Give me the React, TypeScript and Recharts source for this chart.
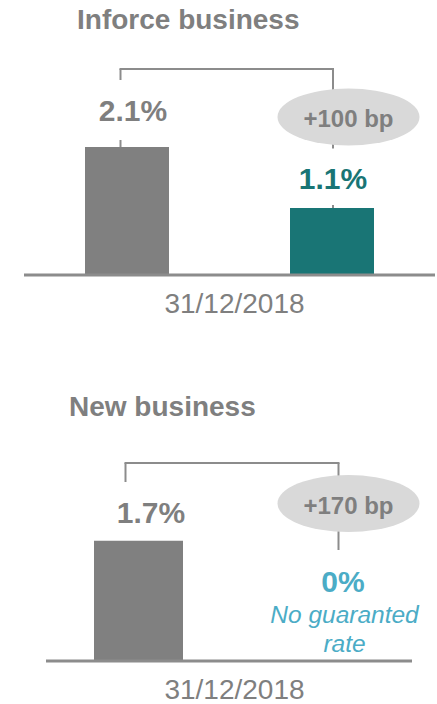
import { BarChart, Bar, XAxis, YAxis, LabelList } from 'recharts';

const FONT = '"Liberation Sans", Arial, Helvetica, sans-serif';
const GREY_TEXT = '#7f7f7f';
const BAR_GREY = '#808080';
const TEAL = '#197575';
const LIGHT_BLUE = '#4bacc6';
const LINE = '#8c8c8c';
const BUBBLE = '#d9d9d9';

// data
const categories = ['31/12/2018'];
const titles = ['Inforce business', 'New business'];
const inforceBefore = [2.1];
const inforceAfter = [1.1];
const newBefore = [1.7];
const newAfter = [0];
const deltaLabels = ['+100 bp', '+170 bp'];
const noteLines = ['No guaranted', 'rate'];

type PanelCfg = {
  top: number;
  height: number;
  margin: { top: number; right: number; bottom: number; left: number };
  padLeft: number;
  barSize: number;
  barGap: number;
  domainMax: number;
  axisHeight: number;
  tickMargin: number;
  tickDx: number;
  titleX: number;
  titleY: number;
  // left bar annotations
  bracketDx1: number;
  stub1Top: number;
  stub1Bottom: number;
  label1Dx: number;
  label1Gap: number;
  // right bar annotations
  bracketDx2: number;
  bubbleDx: number;
  bubbleDy: number;
  stub2Top: number;
  stub2Bottom: number;
  label2Dx: number;
  label2Gap: number;
  noteDx: number;
  noteGaps: number[];
};

const inforceCfg: PanelCfg = {
  top: 0,
  height: 340,
  margin: { top: 69, right: 2, bottom: 0, left: 24 },
  padLeft: 0,
  barSize: 84,
  barGap: 121,
  domainMax: 3.38,
  axisHeight: 65,
  tickMargin: 12,
  tickDx: 5,
  titleX: 77,
  titleY: 29,
  bracketDx1: -6.5,
  stub1Top: 11,
  stub1Bottom: 7,
  label1Dx: 6,
  label1Gap: 26,
  bracketDx2: 1,
  bubbleDx: 16.5,
  bubbleDy: 48,
  stub2Top: 3,
  stub2Bottom: 3,
  label2Dx: 1,
  label2Gap: 19,
  noteDx: 0,
  noteGaps: [],
};

const newCfg: PanelCfg = {
  top: 380,
  height: 324,
  margin: { top: 83, right: 25, bottom: 0, left: 46 },
  padLeft: 18,
  barSize: 89,
  barGap: 110,
  domainMax: 2.8,
  axisHeight: 43,
  tickMargin: 12,
  tickDx: -3.5,
  titleX: 69,
  titleY: 36,
  bracketDx1: -13,
  stub1Top: 19,
  stub1Bottom: 0,
  label1Dx: 12.5,
  label1Gap: 18,
  bracketDx2: 1,
  bubbleDx: 11,
  bubbleDy: 40.5,
  stub2Top: 18,
  stub2Bottom: 0,
  label2Dx: 5.5,
  label2Gap: 69,
  noteDx: 7,
  noteGaps: [38, 9],
};

const RX = 71;
const RY = 28.5;

interface PanelProps {
  title: string;
  before: number[];
  after: number[];
  delta: string;
  afterColor: string;
  notes: string[];
  cfg: PanelCfg;
}

function Panel({ title, before, after, delta, afterColor, notes, cfg }: PanelProps) {
  const data = categories.map((c, i) => ({ date: c, before: before[i], after: after[i] }));
  const bracketY = cfg.margin.top;

  // all annotations hang off the left bar; the right bar (which may be 0) is placed from it
  const annotations = (p: any) => {
    const vb = p.viewBox ?? p;
    const x = Number(vb.x ?? p.x);
    const y = Number(vb.y ?? p.y);
    const w = Number(vb.width ?? p.width);
    const h = Number(vb.height ?? p.height ?? 0);
    const idx = p.index ?? 0;
    const top1 = Math.min(y, y + h);
    const base = Math.max(y, y + h);
    const ppu = Math.abs(h) / before[idx];
    const top2 = base - after[idx] * ppu;

    const cx1 = x + w / 2;
    const cx2 = cx1 + cfg.barSize + cfg.barGap;
    const lx1 = cx1 + cfg.bracketDx1;
    const lx2 = cx2 + cfg.bracketDx2;
    const ex = cx2 + cfg.bubbleDx;
    const ey = bracketY + cfg.bubbleDy;

    return (
      <g>
        <line x1={lx1 - 1} x2={lx2 + 1} y1={bracketY} y2={bracketY} stroke={LINE} strokeWidth={2} />
        <line x1={lx1} x2={lx1} y1={bracketY} y2={bracketY + cfg.stub1Top} stroke={LINE} strokeWidth={2} />
        {cfg.stub1Bottom > 0 && (
          <line x1={lx1} x2={lx1} y1={top1 - cfg.stub1Bottom} y2={top1} stroke={LINE} strokeWidth={2} />
        )}
        <text
          x={cx1 + cfg.label1Dx}
          y={top1 - cfg.label1Gap}
          textAnchor="middle"
          fill={GREY_TEXT}
          style={{ fontFamily: FONT, fontSize: 30, fontWeight: 700 }}
        >
          {`${before[idx]}%`}
        </text>

        <line x1={lx2} x2={lx2} y1={bracketY} y2={ey + RY + cfg.stub2Top} stroke={LINE} strokeWidth={2} />
        {cfg.stub2Bottom > 0 && (
          <line x1={lx2} x2={lx2} y1={top2 - cfg.stub2Bottom} y2={top2} stroke={LINE} strokeWidth={2} />
        )}
        <ellipse cx={ex} cy={ey} rx={RX} ry={RY} fill={BUBBLE} />
        <text
          x={ex}
          y={ey + 10}
          textAnchor="middle"
          fill={GREY_TEXT}
          style={{ fontFamily: FONT, fontSize: 24, fontWeight: 700 }}
        >
          {delta}
        </text>
        <text
          x={cx2 + cfg.label2Dx}
          y={top2 - cfg.label2Gap}
          textAnchor="middle"
          fill={afterColor}
          style={{ fontFamily: FONT, fontSize: 30, fontWeight: 700 }}
        >
          {`${after[idx]}%`}
        </text>
        {notes.map((n, i) => (
          <text
            key={n}
            x={cx2 + cfg.noteDx}
            y={top2 - cfg.noteGaps[i]}
            textAnchor="middle"
            fill={LIGHT_BLUE}
            style={{ fontFamily: FONT, fontSize: 24.5, fontStyle: 'italic' }}
          >
            {n}
          </text>
        ))}
      </g>
    );
  };

  return (
    <div style={{ position: 'absolute', left: 0, top: cfg.top }}>
      <BarChart width={437} height={cfg.height} data={data} margin={cfg.margin} barGap={cfg.barGap}>
        <text
          x={cfg.titleX}
          y={cfg.titleY}
          fill={GREY_TEXT}
          style={{ fontFamily: FONT, fontSize: 28, fontWeight: 700 }}
        >
          {title}
        </text>
        <XAxis
          dataKey="date"
          height={cfg.axisHeight}
          axisLine={{ stroke: LINE, strokeWidth: 3 }}
          tickLine={false}
          tickMargin={cfg.tickMargin}
          padding={{ left: cfg.padLeft, right: 0 }}
          tick={{ fill: GREY_TEXT, fontSize: 28, fontFamily: FONT, dx: cfg.tickDx }}
        />
        <YAxis hide domain={[0, cfg.domainMax]} />
        <Bar dataKey="before" fill={BAR_GREY} barSize={cfg.barSize} isAnimationActive={false}>
          <LabelList dataKey="before" content={annotations} />
        </Bar>
        <Bar dataKey="after" fill={afterColor} barSize={cfg.barSize} isAnimationActive={false} />
      </BarChart>
    </div>
  );
}

export default function App() {
  return (
    <div style={{ position: 'absolute', left: 0, top: 0, width: 437, height: 704, background: '#fff' }}>
      <Panel
        title={titles[0]}
        before={inforceBefore}
        after={inforceAfter}
        delta={deltaLabels[0]}
        afterColor={TEAL}
        notes={[]}
        cfg={inforceCfg}
      />
      <Panel
        title={titles[1]}
        before={newBefore}
        after={newAfter}
        delta={deltaLabels[1]}
        afterColor={LIGHT_BLUE}
        notes={noteLines}
        cfg={newCfg}
      />
    </div>
  );
}
